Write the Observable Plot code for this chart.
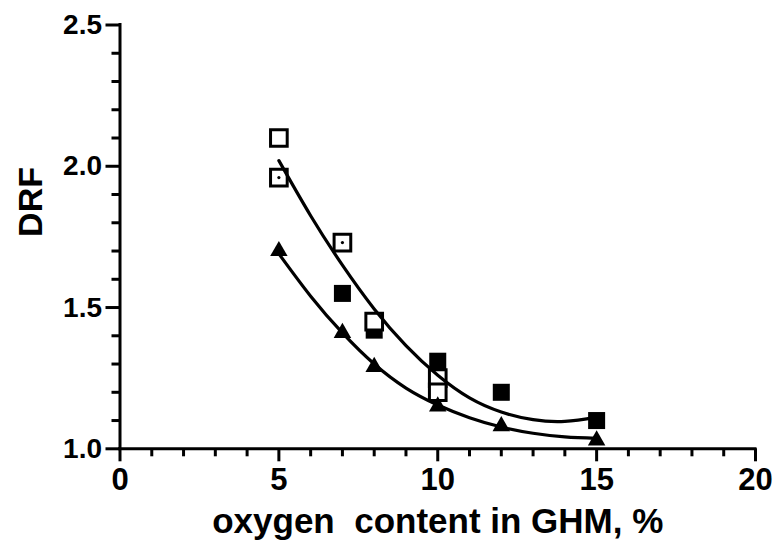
<!DOCTYPE html>
<html>
<head>
<meta charset="utf-8">
<script src="https://cdn.jsdelivr.net/npm/d3@7"></script>
<script src="https://cdn.jsdelivr.net/npm/@observablehq/plot@0.6"></script>
<style>
  html, body { margin: 0; padding: 0; background: #fff; }
</style>
</head>
<body>
<div id="chart"></div>
<script>
// Tick values
const xMajor = [0, 5, 10, 15, 20];
const xMinor = [1, 2, 3, 4, 6, 7, 8, 9, 11, 12, 13, 14, 16, 17, 18, 19];
const yMajor = [1.0, 1.5, 2.0, 2.5];
const yMinor = [1.1, 1.2, 1.3, 1.4, 1.6, 1.7, 1.8, 1.9, 2.1, 2.2, 2.3, 2.4];

// Open squares
const openX = [5, 5, 7, 8, 10, 10];
const openY = [2.10, 1.96, 1.73, 1.45, 1.25, 1.20];
// small centre dots seen inside some open squares
const dotX = [5, 7];
const dotY = [1.96, 1.73];
// Filled squares
const filledX = [7, 8, 10, 12, 15];
const filledY = [1.55, 1.42, 1.31, 1.20, 1.10];
// Triangles
const triX = [5, 7, 8, 10, 12, 15];
const triY = [1.70, 1.41, 1.29, 1.15, 1.08, 1.03];
// Fitted curves
const fitX = [5, 6, 7, 8, 9, 10, 11, 12, 13, 14, 15];
const fitUpper = [2.02, 1.825, 1.65, 1.495, 1.365, 1.26, 1.18, 1.13, 1.103, 1.097, 1.112];
const fitLower = [1.69, 1.54, 1.41, 1.30, 1.215, 1.155, 1.11, 1.077, 1.055, 1.042, 1.037];

const xTitle = "oxygen  content in GHM, %";
const yTitle = "DRF";

const zip = (xs, ys) => xs.map((x, i) => ({x, y: ys[i]}));
const openData = zip(openX, openY);
const dotData = zip(dotX, dotY);
const filledData = zip(filledX, filledY);
const triData = zip(triX, triY);
const upperData = zip(fitX, fitUpper);
const lowerData = zip(fitX, fitLower);

const xBase = 0;   // x-axis sits on y = 1.0, y-axis on x = 0
const yBase = 1;

const chart = Plot.plot({
  width: 774,
  height: 556,
  marginLeft: 119.5,
  marginRight: 19,
  marginTop: 24.5,
  marginBottom: 107.7,
  style: {fontFamily: "'Liberation Sans', Arial, sans-serif", fontWeight: "bold", color: "black", whiteSpace: "pre", background: "white"},
  x: {domain: [0, 20], axis: null},
  y: {domain: [1, 2.5], axis: null},
  marks: [
    // x ticks (pointing down from the axis)
    Plot.ruleX(xMinor, {x: d => d, y1: yBase, y2: yBase, insetTop: 0, insetBottom: -8, strokeWidth: 3}),
    Plot.ruleX(xMajor, {x: d => d, y1: yBase, y2: yBase, insetTop: 0, insetBottom: -13, strokeWidth: 3}),
    // y ticks (pointing left from the axis)
    Plot.ruleY(yMinor, {y: d => d, x1: xBase, x2: xBase, insetLeft: -8, insetRight: 0, strokeWidth: 3}),
    Plot.ruleY(yMajor, {y: d => d, x1: xBase, x2: xBase, insetLeft: -14, insetRight: 0, strokeWidth: 3}),
    // tick labels
    Plot.axisX({ticks: xMajor, tickSize: 0, tickPadding: 19, fontSize: 31, tickFormat: d3.format("d"), label: null}),
    Plot.axisY({ticks: yMajor, tickSize: 0, tickPadding: 18, fontSize: 28, tickFormat: d3.format(".1f"), label: null}),
    // axis lines
    Plot.ruleX([xBase], {strokeWidth: 3, strokeLinecap: "square"}),
    Plot.ruleY([yBase], {strokeWidth: 3, strokeLinecap: "square"}),
    // markers
    Plot.dot(filledData, {x: "x", y: "y", symbol: "square", r: 9.6, fill: "black", stroke: "none"}),
    Plot.dot(openData, {x: "x", y: "y", symbol: "square", r: 9.4, fill: "white", stroke: "black", strokeWidth: 3}),
    Plot.dot(dotData, {x: "x", y: "y", r: 1.6, fill: "black", stroke: "none"}),
    Plot.dot(triData, {x: "x", y: "y", symbol: "triangle", r: 6.5, fill: "black", stroke: "none"}),
    // fitted curves
    Plot.line(upperData, {x: "x", y: "y", curve: "natural", strokeWidth: 3.2, stroke: "black", strokeLinecap: "round"}),
    Plot.line(lowerData, {x: "x", y: "y", curve: "natural", strokeWidth: 3.2, stroke: "black", strokeLinecap: "round"}),
    // axis titles
    Plot.text([xTitle], {frameAnchor: "bottom", dy: 73, lineAnchor: "middle", fontSize: 35, fontWeight: "bold", fill: "black"}),
    Plot.text([yTitle], {frameAnchor: "left", dx: -89, rotate: -90, lineAnchor: "middle", fontSize: 34, fontWeight: "bold", fill: "black"})
  ]
});
document.getElementById("chart").appendChild(chart);
</script>
</body>
</html>
